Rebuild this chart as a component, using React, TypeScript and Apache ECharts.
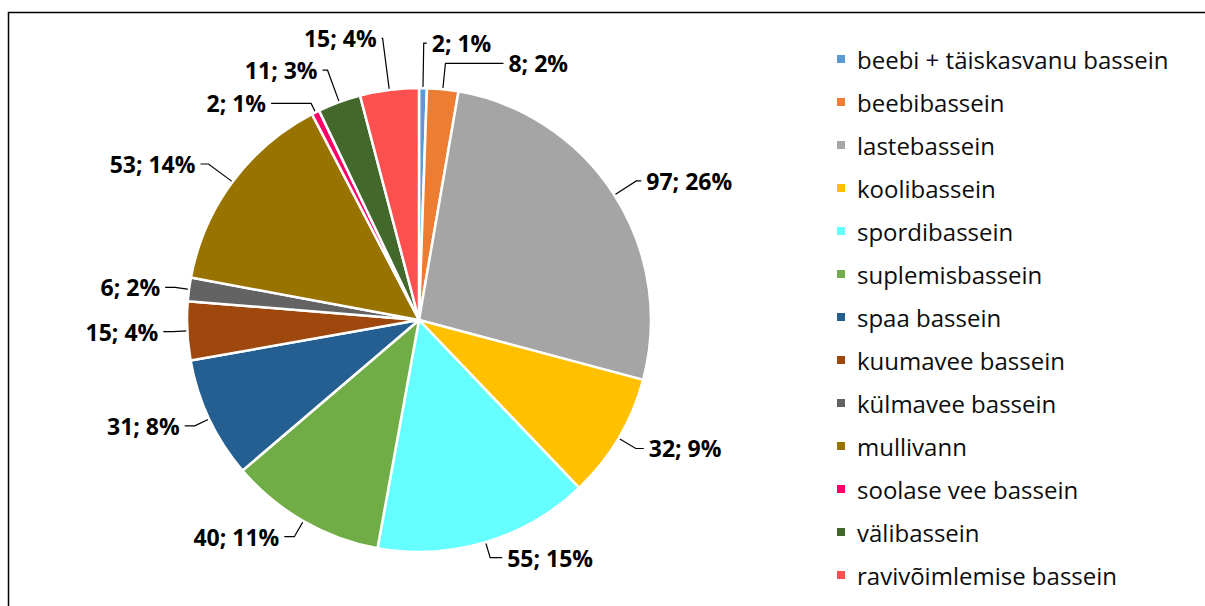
import React, { useEffect, useRef } from "react";
import * as echarts from "echarts";

const categories = [
  "beebi + täiskasvanu bassein",
  "beebibassein",
  "lastebassein",
  "koolibassein",
  "spordibassein",
  "suplemisbassein",
  "spaa bassein",
  "kuumavee bassein",
  "külmavee bassein",
  "mullivann",
  "soolase vee bassein",
  "välibassein",
  "ravivõimlemise bassein",
];
const values = [2, 8, 97, 32, 55, 40, 31, 15, 6, 53, 2, 11, 15];
const colors = [
  "#5B9BD5",
  "#ED7D31",
  "#A5A5A5",
  "#FFC000",
  "#66FFFF",
  "#70AD47",
  "#255E91",
  "#9E480E",
  "#636363",
  "#997300",
  "#FF0066",
  "#43682B",
  "#FF5050",
];
// leader line lengths per slice [first segment, second segment]
const leaderLengths = [
  [45, 3],
  [26, 58],
  [26, 5],
  [20, 8],
  [16, 12],
  [18, 10],
  [16, 10],
  [14, 10],
  [14, 10],
  [30, 8],
  [10, 40],
  [34, 5],
  [52, 1],
];

export default function App() {
  const ref = useRef<HTMLDivElement>(null);
  useEffect(() => {
    if (!ref.current) return;
    const chart = echarts.init(ref.current, null, { renderer: "svg" });
    const total = values.reduce((a, b) => a + b, 0);
    chart.setOption({
      animation: false,
      backgroundColor: "#fff",
      color: colors,
      graphic: [
        {
          type: "rect",
          shape: { x: 8.5, y: 12.5, width: 1300, height: 700 },
          style: { fill: "none", stroke: "#000", lineWidth: 1.5 },
          silent: true,
        },
      ],
      legend: {
        orient: "vertical",
        left: 835,
        top: 47,
        padding: 0,
        height: 555,
        itemWidth: 10,
        itemHeight: 10,
        itemGap: 19,
        icon: "rect",
        textStyle: {
          fontFamily: "Open Sans",
          fontSize: 24,
          lineHeight: 24,
          color: "#0d0d0d",
          padding: [0, 0, 0, 6],
        },
        data: categories,
      },
      series: [
        {
          type: "pie",
          center: [419, 320],
          radius: [0, 232],
          startAngle: 90,
          clockwise: true,
          avoidLabelOverlap: false,
          itemStyle: { borderColor: "#fff", borderWidth: 2.5 },
          label: {
            show: true,
            position: "outside",
            fontFamily: "Open Sans",
            fontWeight: "bold",
            fontSize: 23,
            color: "#000",
            formatter: (p: any) =>
              `${p.value}; ${Math.round((p.value / total) * 100)}%`,
          },
          labelLine: {
            show: true,
            length: 22,
            length2: 10,
            lineStyle: { color: "#000", width: 1.2 },
          },
          data: categories.map((name, i) => ({
            name,
            value: values[i],
            labelLine: {
              length: leaderLengths[i][0],
              length2: leaderLengths[i][1],
            },
          })),
        },
      ],
    });
    return () => chart.dispose();
  }, []);
  return (
    <div
      ref={ref}
      style={{ position: "absolute", left: 0, top: 0, width: 1205, height: 606 }}
    />
  );
}
